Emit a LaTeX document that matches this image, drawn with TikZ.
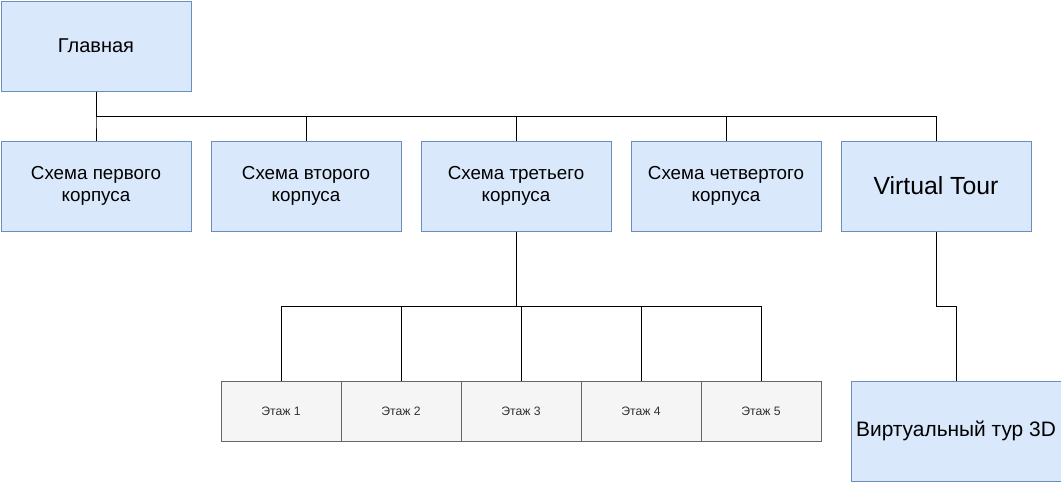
\documentclass[tikz,border=0pt]{standalone}
\usepackage{fontspec}
\setmainfont{Liberation Sans}
\definecolor{boxblue}{HTML}{6C8EBF}
\definecolor{fillblue}{HTML}{DAE8FC}
\definecolor{floorfill}{HTML}{F5F5F5}
\definecolor{floordraw}{HTML}{666666}
\definecolor{floortext}{HTML}{333333}
\tikzset{
  bluebox/.style={draw=boxblue, fill=fillblue, line width=1pt, minimum width=190pt, minimum height=90pt, inner sep=0pt, align=center, anchor=north west, font=\fontsize{18.8}{21.5}\selectfont},
  floorbox/.style={draw=floordraw, fill=floorfill, line width=1pt, minimum width=120pt, minimum height=60pt, inner sep=0pt, anchor=north west, text=floortext, font=\fontsize{12.2}{14}\selectfont},
  conn/.style={draw=black, line width=1pt}
}
\begin{document}
\begin{tikzpicture}[x=1pt,y=-1pt]
\useasboundingbox (0,0) rectangle (1061,482);
\node[bluebox, font=\fontsize{20}{24}\selectfont] (main) at (0.5,0.5) {Главная};
\node[bluebox] (s1) at (0.5,140.5) {Схема первого\\корпуса};
\node[bluebox] (s2) at (210.5,140.5) {Схема второго\\корпуса};
\node[bluebox] (s3) at (420.5,140.5) {Схема третьего\\корпуса};
\node[bluebox] (s4) at (630.5,140.5) {Схема четвертого\\корпуса};
\node[bluebox, font=\fontsize{24.8}{28}\selectfont] (vt) at (840.5,140.5) {Virtual Tour};
\node[floorbox] (f1) at (220.5,380.5) {Этаж 1};
\node[floorbox] (f2) at (340.5,380.5) {Этаж 2};
\node[floorbox] (f3) at (460.5,380.5) {Этаж 3};
\node[floorbox] (f4) at (580.5,380.5) {Этаж 4};
\node[floorbox] (f5) at (700.5,380.5) {Этаж 5};
\node[bluebox, minimum width=210pt, minimum height=100pt, font=\fontsize{20.9}{25}\selectfont] (v3d) at (850.5,380.5) {Виртуальный тур 3D};
\foreach \t in {s1,s2,s3,s4,vt}
  \draw[conn] (main.south) -- ++(0,25) -| (\t.north);
\foreach \t in {f1,f2,f3,f4,f5}
  \draw[conn] (s3.south) -- ++(0,75) -| (\t.north);
\draw[conn] (vt.south) -- ++(0,75) -| (v3d.north);
\end{tikzpicture}
\end{document}
